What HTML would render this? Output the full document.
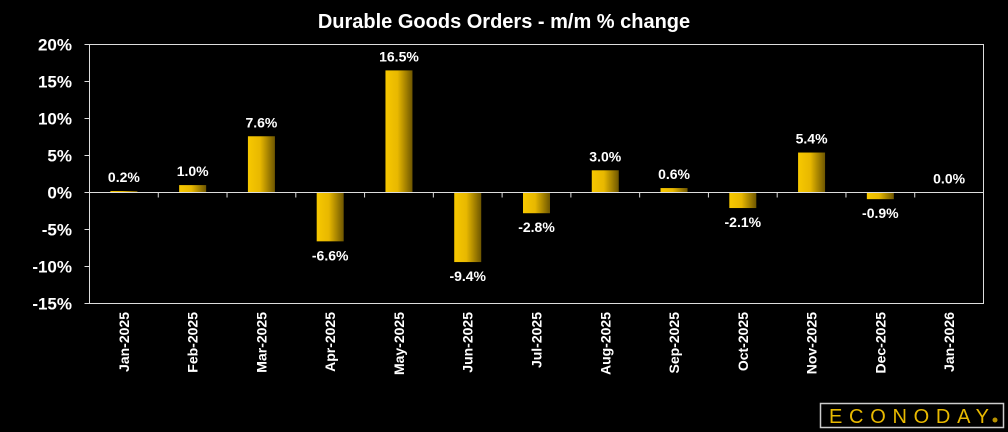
<!DOCTYPE html>
<html><head><meta charset="utf-8"><style>
html,body{margin:0;padding:0;background:#000;}
svg{display:block;font-family:"Liberation Sans",sans-serif;}
</style></head><body>
<svg id="c" width="1008" height="432" viewBox="0 0 1008 432">
<defs><linearGradient id="g" x1="0" x2="1" y1="0" y2="0"><stop offset="0" stop-color="#f7c800"/><stop offset="0.45" stop-color="#e8b800"/><stop offset="1" stop-color="#6e5600"/></linearGradient></defs>
<text x="504" y="28" fill="#fff" font-size="20" font-weight="bold" text-anchor="middle">Durable Goods Orders - m/m % change</text>
<rect x="89.5" y="44.5" width="894" height="259" fill="none" stroke="#ddd" stroke-width="1"/>
<g id="bars"></g>
<rect x="820.5" y="403.5" width="183" height="24" fill="#000" stroke="#ccc" stroke-width="1.5"/>
<text x="829" y="423" fill="#e8b900" font-size="20" textLength="160" lengthAdjust="spacing">ECONODAY</text>
<circle cx="995" cy="420" r="2.5" fill="#b89200"/>
</svg>
<script>
const categories=["Jan-2025","Feb-2025","Mar-2025","Apr-2025","May-2025","Jun-2025","Jul-2025","Aug-2025","Sep-2025","Oct-2025","Nov-2025","Dec-2025","Jan-2026"];
const values=[0.2,1.0,7.6,-6.6,16.5,-9.4,-2.8,3.0,0.6,-2.1,5.4,-0.9,0.0];
const yTicks=[20,15,10,5,0,-5,-10,-15];
const NS="http://www.w3.org/2000/svg";
const g=document.getElementById('bars');
const L=89.5,R=983.5,T=44.5,B=303.5,yMax=20,yMin=-15;
const y=v=>T+(yMax-v)/(yMax-yMin)*(B-T);
const bw=(R-L)/categories.length;
const x=i=>L+bw*(i+0.5);
function mk(t,a){const e=document.createElementNS(NS,t);for(const k in a)e.setAttribute(k,a[k]);g.appendChild(e);return e;}
yTicks.forEach(t=>{
  const tl=mk('line',{x1:L-5,x2:L,y1:y(t),y2:y(t),stroke:'#ddd'});
  
  
  const lb=mk('text',{x:72,y:y(t)+6,fill:'#fff','font-size':17,'font-weight':'bold','text-anchor':'end'});
  lb.textContent=t+'%';
  
  
});
const z=y(0);
categories.forEach((c,i)=>{
  const v=values[i];const top=Math.min(y(v),z),h=Math.abs(y(v)-z);
  const r=mk('rect',{x:x(i)-13.5,y:top,width:27,height:Math.max(h,0),fill:'url(#g)'});
  
  
  const vl=mk('text',{x:x(i),y:v>=0?y(v)-9:y(v)+19,fill:'#fff','font-size':14,'font-weight':'bold','text-anchor':'middle'});
  vl.textContent=v.toFixed(1)+'%';
  
  
  const cl=mk('text',{transform:`translate(${x(i)+5},312) rotate(-90)`,fill:'#fff','font-size':14,'font-weight':'bold','text-anchor':'end'});
  cl.textContent=c;
  
  
  if(i>0){const tk=mk('line',{x1:L+bw*i,x2:L+bw*i,y1:z,y2:z+5,stroke:'#ddd'});
  
  }
});
const zl=mk('line',{x1:L,x2:R,y1:z,y2:z,stroke:'#ddd'});


</script>
</body></html>
